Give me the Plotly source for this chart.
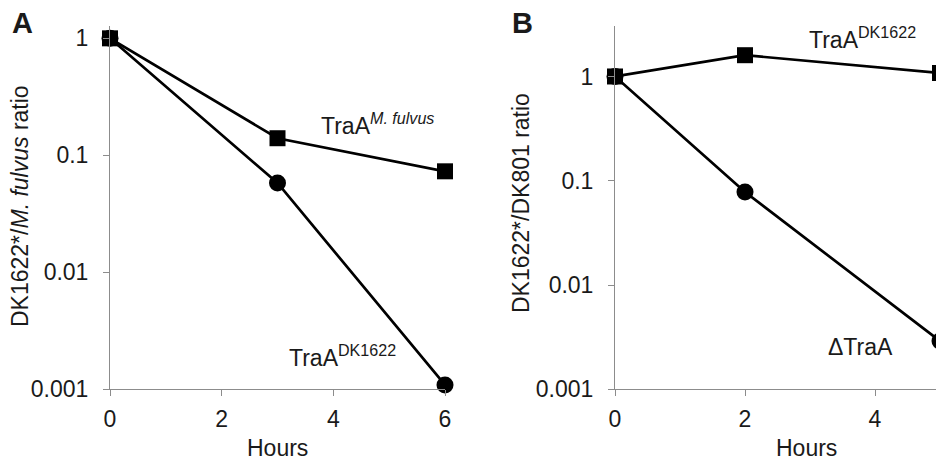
import plotly.graph_objects as go

# The page body has an 8px margin, so the figure is drawn 8px in from the window corner
OFF = 8
W, H = 944 - OFF, 463 - OFF

# Panel A data
hours_a = [0, 3, 6]
mfulvus_a = [1.0, 0.14, 0.073]
dk1622_a = [1.0, 0.058, 0.00109]

# Panel B data
hours_b = [0, 2, 5]
dk1622_b = [1.0, 1.6, 1.08]
dtraa_b = [1.0, 0.078, 0.0029]

ytick_vals = [0.001, 0.01, 0.1, 1]
ytick_text = ["0.001", "0.01", "0.1", "1"]

FONT = "Liberation Sans, Arial, sans-serif"
FS = 23
AXC = "#8c8c8c"
TXT = "#1a1a1a"


def px(x):
    return (x - OFF) / W


def py(y):
    return 1 - (y - OFF) / H


fig = go.Figure()

line = dict(color="black", width=2.7)
sq = dict(symbol="square", size=16, color="black")
ci = dict(symbol="circle", size=17, color="black")

fig.add_trace(go.Scatter(x=hours_a, y=mfulvus_a, mode="lines+markers", line=line,
                         marker=sq, xaxis="x", yaxis="y", cliponaxis=False))
fig.add_trace(go.Scatter(x=hours_a, y=dk1622_a, mode="lines+markers", line=line,
                         marker=ci, xaxis="x", yaxis="y", cliponaxis=False))
fig.add_trace(go.Scatter(x=hours_b, y=dtraa_b, mode="lines+markers", line=line,
                         marker=ci, xaxis="x2", yaxis="y2", cliponaxis=False))
fig.add_trace(go.Scatter(x=hours_b, y=dk1622_b, mode="lines+markers", line=line,
                         marker=sq, xaxis="x2", yaxis="y2", cliponaxis=False))

ydom = [py(389.3), py(25.7)]

common_x = dict(showline=True, linecolor=AXC, linewidth=1, ticks="outside", ticklen=6,
                tickcolor=AXC, tickwidth=1, showgrid=False, zeroline=False, automargin=False,
                tickfont=dict(family=FONT, size=FS, color=TXT), ticklabelstandoff=3)
common_y = dict(type="log", showline=True, linecolor=AXC, linewidth=1, ticks="outside",
                ticklen=6, tickcolor=AXC, tickwidth=1, showgrid=False, zeroline=False,
                automargin=False, tickvals=ytick_vals, ticktext=ytick_text,
                tickfont=dict(family=FONT, size=FS, color=TXT), ticklabelstandoff=10)

fig.update_layout(
    width=W, height=H, margin=dict(l=0, r=0, t=0, b=0, autoexpand=False),
    paper_bgcolor="white", plot_bgcolor="white", showlegend=False,
    font=dict(family=FONT, size=FS, color=TXT),
    xaxis=dict(domain=[px(110), px(445)], range=[0, 6], tickvals=[0, 2, 4, 6],
               anchor="y", **common_x),
    yaxis=dict(domain=ydom, range=[-3, 0.108], anchor="x", **common_y),
    xaxis2=dict(domain=[px(615), px(940)], range=[0, 5], tickvals=[0, 2, 4],
                anchor="y2", **common_x),
    yaxis2=dict(domain=ydom, range=[-3, 0.487], anchor="x2", **common_y),
)

anns = [
    dict(text="<b>A</b>", x=px(10), y=py(23), xanchor="left", yanchor="middle", font=dict(size=29)),
    dict(text="<b>B</b>", x=px(510), y=py(23), xanchor="left", yanchor="middle", font=dict(size=29)),
    dict(text="Hours", x=px(277), y=py(448), xanchor="center", yanchor="middle"),
    dict(text="Hours", x=px(806), y=py(448), xanchor="center", yanchor="middle"),
    dict(text="DK1622*/<i>M. fulvus</i> ratio", x=px(20), y=py(206), textangle=-90,
         xanchor="center", yanchor="middle"),
    dict(text="DK1622*/DK801 ratio", x=px(521), y=py(203), textangle=-90,
         xanchor="center", yanchor="middle"),
    dict(text="TraA<sup><i>M. fulvus</i></sup>", x=px(319), y=py(124), xanchor="left", yanchor="middle"),
    dict(text="TraA<sup>DK1622</sup>", x=px(287), y=py(356), xanchor="left", yanchor="middle"),
    dict(text="TraA<sup>DK1622</sup>", x=px(807), y=py(38), xanchor="left", yanchor="middle"),
    dict(text="ΔTraA", x=px(826), y=py(347), xanchor="left", yanchor="middle"),
]
for a in anns:
    a.update(xref="paper", yref="paper", showarrow=False)
    a.setdefault("font", dict())
    a["font"] = dict(family=FONT, size=a["font"].get("size", FS), color=TXT)
    fig.add_annotation(**a)

fig.write_html("out.html")
